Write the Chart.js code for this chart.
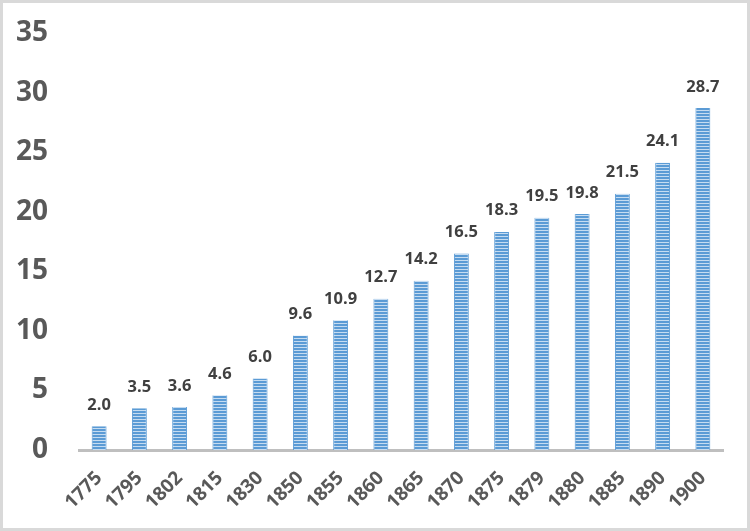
<!DOCTYPE html>
<html>
<head>
<meta charset="utf-8">
<script src="https://cdn.jsdelivr.net/npm/chart.js@4"></script>
<style>
html,body{margin:0;padding:0;background:#fff;}
#wrap{width:750px;height:531px;position:relative;}
</style>
</head>
<body>
<div id="wrap"><canvas id="c" width="750" height="531"></canvas></div>
<script>
const categories = ["1775","1795","1802","1815","1830","1850","1855","1860","1865","1870","1875","1879","1880","1885","1890","1900"];
const values = [2.0,3.5,3.6,4.6,6.0,9.6,10.9,12.7,14.2,16.5,18.3,19.5,19.8,21.5,24.1,28.7];
const yTicks = [0,5,10,15,20,25,30,35];

// striped fill pattern
const pc = document.createElement('canvas');
pc.width = 4; pc.height = 3;
const px = pc.getContext('2d');
px.fillStyle = '#5b9bd5'; px.fillRect(0,0,4,2);
px.fillStyle = '#c6dcf1'; px.fillRect(0,2,4,1);
const ctx = document.getElementById('c').getContext('2d');
const pattern = ctx.createPattern(pc,'repeat');

const valueLabels = {
  id:'valueLabels',
  afterDatasetsDraw(chart){
    const c = chart.ctx;
    const meta = chart.getDatasetMeta(0);
    c.save();
    c.font = 'bold 16.5px "Open Sans"';
    c.fillStyle = '#404040';
    c.textAlign = 'center';
    c.textBaseline = 'bottom';
    meta.data.forEach((bar,i)=>{
      c.fillText(values[i].toFixed(1), bar.x, bar.y - 13);
    });
    c.restore();
  }
};
const frame = {
  id:'frame',
  afterDraw(chart){
    const c = chart.ctx;
    c.save();
    c.strokeStyle = '#d9d9d9';
    c.lineWidth = 3;
    c.strokeRect(1.5,1.5,chart.width-3,chart.height-3);
    c.restore();
  }
};

new Chart(ctx,{
  type:'bar',
  data:{labels:categories,datasets:[{data:values,backgroundColor:pattern,borderColor:'#5b9bd5',borderWidth:{left:1,right:1,top:0,bottom:0},categoryPercentage:1,barPercentage:0.37}]},
  options:{
    responsive:false,
    animation:false,
    layout:{padding:{top:33,left:15,right:27,bottom:0}},
    plugins:{legend:{display:false},tooltip:{enabled:false}},
    scales:{
      x:{
        grid:{display:false,drawTicks:false},
        border:{display:true,color:'#bfbfbf',width:3},
        ticks:{color:'#595959',font:{family:'Open Sans',size:19,weight:'bold'},minRotation:45,maxRotation:45,padding:17,autoSkip:false},
        afterFit(s){s.height = 81;}
      },
      y:{
        min:0,max:35,
        afterBuildTicks(s){s.ticks = yTicks.map(v=>({value:v}));},
        grid:{display:false,drawTicks:false},
        border:{display:false},
        ticks:{color:'#595959',font:{family:'Open Sans',size:28,weight:'bold'},padding:31},
        afterFit(s){s.width = 64; s.paddingTop = 0; s.paddingBottom = 0;}
      }
    }
  },
  plugins:[valueLabels,frame]
});
</script>
</body>
</html>
